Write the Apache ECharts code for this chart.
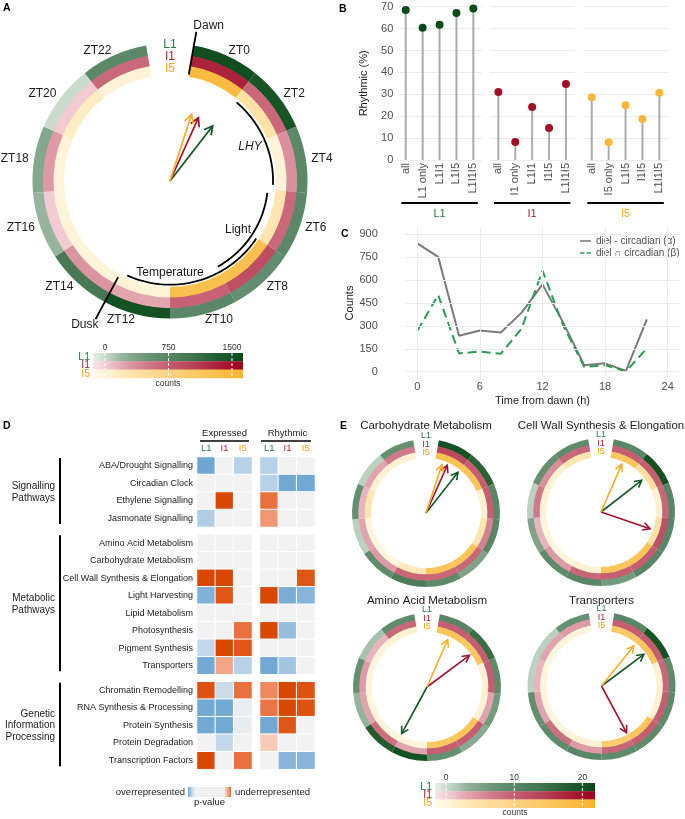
<!DOCTYPE html>
<html>
<head>
<meta charset="utf-8">
<script src="https://cdn.jsdelivr.net/npm/echarts@6.0.0/dist/echarts.min.js"></script>
<style>
html,body{margin:0;padding:0;background:#ffffff;}
#chart{width:685px;height:819px;}
</style>
</head>
<body>
<div id="chart"></div>
<script>
// ======================= DATA =======================
const accessions = ['L1', 'I1', 'I5'];
const ztLabels = ['ZT0','ZT2','ZT4','ZT6','ZT8','ZT10','ZT12','ZT14','ZT16','ZT18','ZT20','ZT22'];
const binStartHour = [0, 2, 4, 6, 8, 10, 12, 14, 16, 18, 20, 22];
const binWidthHour = 2;

// ---- Panel A: counts per 2-h phase bin ----
const ringA_L1 = [1550, 1450, 700, 700, 620, 720, 1500, 950, 200, 320, 0, 700];
const ringA_I1 = [1300, 650, 350, 650, 900, 700, 200, 320, 20, 280, 20, 650];
const ringA_I5 = [1450, 350, 30, 300, 1300, 1300, 20, 0, 0, 10, 150, 30];
const arrowA_hour = [1.96, 1.00, 0.56];
const arrowA_len = [0.657, 0.654, 0.661];
const arcNames = ['LHY', 'Light', 'Temperature'];
const arcStartHour = [2.14, 6.14, 8.03];
const arcEndHour = [5.80, 9.94, 13.72];
const markerNames = ['Dawn', 'Dusk'];
const markerHour = [0, 14];
const legendA_ticks = [0, 750, 1500];

// ---- Panel B ----
const catsL1 = ['all', 'L1 only', 'L1I1', 'L1I5', 'L1I1I5'];
const catsI1 = ['all', 'I1 only', 'L1I1', 'I1I5', 'L1I1I5'];
const catsI5 = ['all', 'I5 only', 'L1I5', 'I1I5', 'L1I1I5'];
const rhythmicL1 = [68.5, 60.4, 61.8, 67.1, 69.2];
const rhythmicI1 = [31.0, 8.2, 24.2, 14.6, 34.7];
const rhythmicI5 = [28.6, 8.1, 25.0, 18.7, 30.7];
const rhythmicTicks = [0, 10, 20, 30, 40, 50, 60, 70];

// ---- Panel C ----
const hoursC = [0, 2, 4, 6, 8, 10, 12, 14, 16, 18, 20, 22];
const dielMinusCircadian = [840, 752, 235, 270, 257, 387, 572, 320, 42, 55, 5, 342];
const dielAndCircadian = [268, 502, 120, 132, 117, 283, 662, 300, 32, 43, 3, 152];
const xTicksC = [0, 6, 12, 18, 24];
const yTicksC = [0, 150, 300, 450, 600, 750, 900];

// ---- Panel D ----
const groupNames = ['Signalling\nPathways', 'Metabolic\nPathways', 'Genetic\nInformation\nProcessing'];
const pathwaysSignalling = ['ABA/Drought Signalling', 'Circadian Clock', 'Ethylene Signalling', 'Jasmonate Signalling'];
const pathwaysMetabolic = ['Amino Acid Metabolism', 'Carbohydrate Metabolism', 'Cell Wall Synthesis & Elongation', 'Light Harvesting', 'Lipid Metabolism', 'Photosynthesis', 'Pigment Synthesis', 'Transporters'];
const pathwaysGenetic = ['Chromatin Remodelling', 'RNA Synthesis & Processing', 'Protein Synthesis', 'Protein Degradation', 'Transcription Factors'];
// signed enrichment: negative = overrepresented (blue), positive = underrepresented (orange)
const expressedSignalling = [[-2.1, 0, -1.0], [0, 0, 0], [0, 3, 0], [-1.1, 0, 0]];
const expressedMetabolic = [[0, 0, 0], [0, 0, 0], [3, 3, 0], [-1.8, 2.7, 0], [0, 0, 0], [0, 0, 2.2], [-0.8, 3, 2.7], [-2, 1.4, -1]];
const expressedGenetic = [[2.8, -0.7, 2.2], [-2, -2, -0.15], [-2, -2, -0.2], [0, -0.8, 0], [3, 0, 2.2]];
const rhythmicSignalling = [[-1, 0, 0], [-1, -2, -2], [2.2, 0, 0], [1.6, 0, 0]];
const rhythmicMetabolic = [[0, 0, 0], [0, 0, 0], [0, 0, 2.7], [3, -1.9, -1.7], [0, 0, 0], [3, -1.5, 0], [0, 0, 0], [-2, -1.3, 0]];
const rhythmicGenetic = [[1.8, 3, 2.8], [2.1, 3, 2.8], [-2, 2.7, 0], [0.8, 0, 0], [0, -1.7, -1.7]];

// ---- Panel E ----
const eTitles = ['Carbohydrate Metabolism', 'Cell Wall Synthesis & Elongation', 'Amino Acid Metabolism', 'Transporters'];
const ringCarb_L1 = [20, 17, 10, 10, 5, 9, 12, 9, 1, 8, 1, 8];
const ringCarb_I1 = [13, 10, 10, 6, 9, 9, 9, 4, 3, 2, 3, 7];
const ringCarb_I5 = [17, 16, 1, 4, 16, 16, 3, 0, 0, 4, 1, 1];
const ringCell_L1 = [10, 20, 10, 10, 10, 6, 10, 9, 5, 1, 8, 9];
const ringCell_I1 = [10, 10, 9, 12, 10, 10, 9, 4, 2, 7, 5, 9];
const ringCell_I5 = [15, 6, 1, 5, 16, 16, 1, 0, 0, 1, 1, 4];
const ringAmino_L1 = [10, 15, 9, 6, 4, 8, 20, 18, 3, 8, 2, 9];
const ringAmino_I1 = [10, 10, 10, 3, 10, 10, 3, 8, 3, 4, 2, 9];
const ringAmino_I5 = [16, 15, 1, 1, 16, 15, 0, 0, 0, 0, 0, 1];
const ringTrans_L1 = [10, 20, 9, 9, 9, 9, 10, 9, 8, 1, 1, 8];
const ringTrans_I1 = [10, 10, 9, 10, 10, 9, 4, 8, 3, 2, 3, 4];
const ringTrans_I5 = [14, 16, 1, 1, 16, 13, 1, 0, 0, 0, 0, 0];
const arrowCarb_hour = [1.99, 0.99, 0.59];
const arrowCarb_len = [0.942, 0.949, 0.925];
const arrowCell_hour = [2.97, 6.97, 0.95];
const arrowCell_len = [0.938, 0.942, 0.945];
const arrowAmino_hour = [14.01, 3.05, 0.96];
const arrowAmino_len = [0.965, 0.962, 0.938];
const arrowTrans_hour = [3.05, 10.01, 2.04];
const arrowTrans_len = [0.962, 0.964, 0.935];
const legendE_ticks = [0, 10, 20];

// ======================= STYLE / LAYOUT =======================
const FONT = '"Liberation Sans", Arial, Helvetica, sans-serif';
const ACC_TEXT = ['#2f7545', '#b01c33', '#f5a51c'];
const POINT_COL = ['#0c4a1c', '#a50f25', '#f9b83a'];
const ARROW_COL = ['#17552a', '#a3122b', '#f5ae2c'];
const RAMP_POS = [0, 0.1, 0.2, 0.35, 0.5, 0.7, 0.85, 1];
const RAMPS = [
  ['#e9f0ea', '#c2d4c6', '#93b29b', '#6d9678', '#588665', '#3c7047', '#1f5a2c', '#0a491a'],
  ['#f8e5e9', '#f0c8d0', '#e1a3ae', '#d17d8c', '#c45d6f', '#b63d52', '#a81b34', '#a00020'],
  ['#fff9ec', '#fff2d5', '#fee8b8', '#fddc9a', '#fcd385', '#fac862', '#f9bd47', '#f7b430']
];
const COLOR_DOMAIN_A = [-142, 1630];
const COLOR_DOMAIN_E = [-1.65, 21.85];
const GAP_DEG = 20;
const H_PAD = (GAP_DEG / 2) * 24 / (360 - GAP_DEG);
const H_MIN = -H_PAD, H_MAX = 24 + H_PAD;

function rampColor(k, t) {
  t = Math.max(0, Math.min(1, t));
  for (let j = 1; j < RAMP_POS.length; j++) {
    if (t <= RAMP_POS[j]) {
      const f = (t - RAMP_POS[j - 1]) / (RAMP_POS[j] - RAMP_POS[j - 1]);
      return echarts.color.lerp(f, [RAMPS[k][j - 1], RAMPS[k][j]]);
    }
  }
  return RAMPS[k][RAMPS[k].length - 1];
}
function txt(text, x, y, align, valign, fill, size, weight, style, lh) {
  const font = (style ? style + ' ' : '') + (weight ? weight + ' ' : '') + size + 'px ' + FONT;
  const s = { text: text, fill: fill, font: font, align: align, textAlign: align, verticalAlign: valign, textVerticalAlign: valign };
  if (lh) s.lineHeight = lh;
  return { type: 'text', x: x, y: y, silent: true, style: s };
}

const grid = [], xAxis = [], yAxis = [], series = [], G = [];

// polar systems: A and four E plots (radius = inner edge of the rings)
const POLARS = [
  { center: [170, 181], r: 106, thick: 10.5, domain: COLOR_DOMAIN_A, rings: [ringA_L1, ringA_I1, ringA_I5], aHour: arrowA_hour, aLen: arrowA_len, head: 9.5, lw: 1.8, labR: [1.283, 1.17, 1.057], labSize: 12 },
  { center: [426, 513], r: 55, thick: 6.33, domain: COLOR_DOMAIN_E, rings: [ringCarb_L1, ringCarb_I1, ringCarb_I5], aHour: arrowCarb_hour, aLen: arrowCarb_len, head: 8, lw: 1.6, labR: [1.40, 1.249, 1.096], labSize: 9 },
  { center: [601, 512], r: 55, thick: 6.33, domain: COLOR_DOMAIN_E, rings: [ringCell_L1, ringCell_I1, ringCell_I5], aHour: arrowCell_hour, aLen: arrowCell_len, head: 8, lw: 1.6, labR: [1.40, 1.249, 1.096], labSize: 9 },
  { center: [427, 687], r: 55, thick: 6.33, domain: COLOR_DOMAIN_E, rings: [ringAmino_L1, ringAmino_I1, ringAmino_I5], aHour: arrowAmino_hour, aLen: arrowAmino_len, head: 8, lw: 1.6, labR: [1.40, 1.249, 1.096], labSize: 9 },
  { center: [601.5, 686], r: 55, thick: 6.33, domain: COLOR_DOMAIN_E, rings: [ringTrans_L1, ringTrans_I1, ringTrans_I5], aHour: arrowTrans_hour, aLen: arrowTrans_len, head: 8, lw: 1.6, labR: [1.40, 1.249, 1.096], labSize: 9 }
];

// ======================= PANEL B =======================
const B_TOP = 6.7, B_H = 153.3, B_LEFT = [397.3, 489.9, 583.3], B_W = 84.5;
const bCats = [catsL1, catsI1, catsI5];
const bVals = [rhythmicL1, rhythmicI1, rhythmicI5];
for (let f = 0; f < 3; f++) {
  grid.push({ left: B_LEFT[f], top: B_TOP, width: B_W, height: B_H });
  xAxis.push({ gridIndex: f, type: 'category', data: bCats[f], axisLine: { show: false }, axisTick: { show: false },
    axisLabel: { rotate: 90, fontSize: 11, color: '#4d4d4d', margin: 3, interval: 0, fontFamily: FONT } });
  yAxis.push({ gridIndex: f, type: 'value', min: rhythmicTicks[0], max: rhythmicTicks[rhythmicTicks.length - 1], interval: 10,
    axisLine: { show: false }, axisTick: { show: false },
    splitLine: { lineStyle: { color: '#ebebeb', width: 1 } },
    axisLabel: { show: f === 0, fontSize: 11, color: '#4d4d4d', margin: 4, fontFamily: FONT },
    name: f === 0 ? 'Rhythmic (%)' : '', nameLocation: 'middle', nameGap: 28,
    nameTextStyle: { fontSize: 11, color: '#1a1a1a', fontFamily: FONT } });
  series.push({ type: 'bar', xAxisIndex: f, yAxisIndex: f, data: bVals[f], barWidth: 2, itemStyle: { color: '#ababab' }, silent: true, z: 2 });
  series.push({ type: 'scatter', xAxisIndex: f, yAxisIndex: f, data: bVals[f], symbolSize: 8, itemStyle: { color: POINT_COL[f], opacity: 1 }, silent: true, z: 3 });
  G.push({ type: 'line', silent: true, shape: { x1: B_LEFT[f] + 4, y1: 203, x2: B_LEFT[f] + B_W - 4, y2: 203 }, style: { stroke: '#000', lineWidth: 2 } });
  G.push(txt(accessions[f], B_LEFT[f] + B_W / 2, 214, 'center', 'middle', ACC_TEXT[f], 11));
}

// ======================= PANEL C =======================
const C_LEFT = 404.8, C_TOP = 227.4, C_W = 275.4, C_H = 151.2;
const C_NAMES = ['diel - circadian (α)', 'diel ∩ circadian (β)'];
grid.push({ left: C_LEFT, top: C_TOP, width: C_W, height: C_H });
xAxis.push({ gridIndex: 3, type: 'value', min: -1.2, max: 25.2, axisLine: { show: false }, axisTick: { show: false }, splitLine: { show: false },
  axisLabel: { customValues: xTicksC, fontSize: 11, color: '#4d4d4d', margin: 3, fontFamily: FONT },
  name: 'Time from dawn (h)', nameLocation: 'middle', nameGap: 17,
  nameTextStyle: { fontSize: 11, color: '#1a1a1a', verticalAlign: 'top', fontFamily: FONT } });
yAxis.push({ gridIndex: 3, type: 'value', min: -45, max: 945, axisLine: { show: false }, axisTick: { show: false }, splitLine: { show: false },
  axisLabel: { customValues: yTicksC, fontSize: 11, color: '#4d4d4d', margin: 27, fontFamily: FONT },
  name: 'Counts', nameLocation: 'middle', nameGap: 49,
  nameTextStyle: { fontSize: 11, color: '#1a1a1a', fontFamily: FONT } });
series.push({ type: 'line', xAxisIndex: 3, yAxisIndex: 3, data: [], silent: true, z: 1,
  markLine: { silent: true, symbol: ['none', 'none'], label: { show: false }, animation: false,
    lineStyle: { color: '#ebebeb', width: 1, type: 'solid' },
    data: xTicksC.map(v => ({ xAxis: v })).concat(yTicksC.map(v => ({ yAxis: v }))) } });
series.push({ type: 'line', name: C_NAMES[0], xAxisIndex: 3, yAxisIndex: 3, symbol: 'none',
  data: hoursC.map((h, i) => [h, dielMinusCircadian[i]]),
  lineStyle: { color: '#7a7a7a', width: 2 }, itemStyle: { color: '#7a7a7a' }, z: 3, silent: true });
series.push({ type: 'line', name: C_NAMES[1], xAxisIndex: 3, yAxisIndex: 3, symbol: 'none',
  data: hoursC.map((h, i) => [h, dielAndCircadian[i]]),
  lineStyle: { color: '#2e9a54', width: 2, type: [9, 5] }, itemStyle: { color: '#2e9a54' }, z: 4, silent: true });

// ======================= PANEL D =======================
const D_COL_LEFT = [197, 260], D_COL_W = 55;
const D_GROUP_TOP = [457, 534.3, 681.7], D_ROW_H = 17.5;
const dRows = [pathwaysSignalling, pathwaysMetabolic, pathwaysGenetic];
const dVals = [[expressedSignalling, rhythmicSignalling], [expressedMetabolic, rhythmicMetabolic], [expressedGenetic, rhythmicGenetic]];
const heatIdx = [];
for (let g = 0; g < 3; g++) {
  for (let b = 0; b < 2; b++) {
    const gi = grid.length;
    grid.push({ left: D_COL_LEFT[b], top: D_GROUP_TOP[g], width: D_COL_W, height: dRows[g].length * D_ROW_H });
    xAxis.push({ gridIndex: gi, type: 'category', data: accessions, position: 'top', axisLine: { show: false }, axisTick: { show: false }, splitLine: { show: false },
      axisLabel: { show: g === 0, interval: 0, margin: 3.5, fontSize: 9.5, fontFamily: FONT,
        formatter: v => '{' + v + '|' + v + '}',
        rich: { L1: { color: ACC_TEXT[0], fontSize: 9.5, fontFamily: FONT }, I1: { color: ACC_TEXT[1], fontSize: 9.5, fontFamily: FONT }, I5: { color: ACC_TEXT[2], fontSize: 9.5, fontFamily: FONT } } } });
    yAxis.push({ gridIndex: gi, type: 'category', data: dRows[g], inverse: true, axisLine: { show: false }, axisTick: { show: false }, splitLine: { show: false },
      axisLabel: { show: b === 0, interval: 0, fontSize: 9, color: '#1a1a1a', margin: 4, fontFamily: FONT } });
    const data = [];
    dVals[g][b].forEach((row, r) => row.forEach((v, c) => data.push([c, r, v])));
    heatIdx.push(series.length);
    series.push({ type: 'heatmap', xAxisIndex: gi, yAxisIndex: gi, data: data, silent: true,
      itemStyle: { borderColor: '#ffffff', borderWidth: 1 }, emphasis: { disabled: true } });
  }
  const top = D_GROUP_TOP[g], bot = top + dRows[g].length * D_ROW_H;
  G.push({ type: 'line', silent: true, shape: { x1: 60, y1: top + 1, x2: 60, y2: bot - 3 }, style: { stroke: '#000', lineWidth: 2 } });
  G.push(txt(groupNames[g], 55, (top + bot) / 2, 'right', 'middle', '#1a1a1a', 10, null, null, 11.7));
}
G.push(txt('Expressed', D_COL_LEFT[0] + D_COL_W / 2, 433, 'center', 'middle', '#1a1a1a', 9.5));
G.push({ type: 'line', silent: true, shape: { x1: 200, y1: 441, x2: 249, y2: 441 }, style: { stroke: '#000', lineWidth: 1.5 } });
G.push(txt('Rhythmic', D_COL_LEFT[1] + D_COL_W / 2, 433, 'center', 'middle', '#1a1a1a', 9.5));
G.push({ type: 'line', silent: true, shape: { x1: 261, y1: 441, x2: 311, y2: 441 }, style: { stroke: '#000', lineWidth: 1.5 } });
// p-value legend
G.push({ type: 'rect', silent: true, shape: { x: 188, y: 787, width: 43, height: 10 },
  style: { fill: new echarts.graphic.LinearGradient(0, 0, 1, 0, [
    { offset: 0, color: '#6ea6d2' }, { offset: 0.07, color: '#b0cde6' }, { offset: 0.16, color: '#f0f0f0' },
    { offset: 0.84, color: '#f0f0f0' }, { offset: 0.93, color: '#f3a47f' }, { offset: 1, color: '#e8693a' }]) } });
G.push(txt('overrepresented', 185, 792, 'right', 'middle', '#1a1a1a', 9.5));
G.push(txt('underrepresented', 235, 792, 'left', 'middle', '#1a1a1a', 9.5));
G.push(txt('p-value', 209.5, 797, 'center', 'top', '#1a1a1a', 9.5));

// ======================= PANELS A & E (rings, arrows) =======================
function rampLegend(x0, x1, y0, barH, domain, ticks, fs) {
  const X = v => x0 + (v - domain[0]) / (domain[1] - domain[0]) * (x1 - x0);
  for (let k = 0; k < 3; k++) {
    G.push({ type: 'rect', silent: true, shape: { x: x0, y: y0 + k * barH, width: x1 - x0, height: barH + 0.3 },
      style: { fill: new echarts.graphic.LinearGradient(0, 0, 1, 0, RAMP_POS.map((p, j) => ({ offset: p, color: RAMPS[k][j] }))) } });
    G.push(txt(accessions[k], x0 - 3, y0 + (k + 0.5) * barH, 'right', 'middle', ACC_TEXT[k], fs + 2));
  }
  ticks.forEach(t => {
    const x = X(t);
    G.push({ type: 'line', silent: true, shape: { x1: x, y1: y0, x2: x, y2: y0 + 3 * barH }, style: { stroke: '#ffffff', lineWidth: 1, lineDash: [3, 2] } });
    G.push(txt(String(t), x, y0 - 1, 'center', 'bottom', '#333333', fs));
  });
  G.push(txt('counts', (x0 + x1) / 2, y0 + 3 * barH + 1, 'center', 'top', '#333333', fs));
}

const polar = [], angleAxis = [], radiusAxis = [];
POLARS.forEach((P, pi) => {
  polar.push({ center: P.center, radius: P.r });
  angleAxis.push({ polarIndex: pi, type: 'value', min: H_MIN, max: H_MAX, startAngle: 90, clockwise: true, show: false });
  radiusAxis.push({ polarIndex: pi, type: 'value', min: 0, max: 1, show: false });
  // rings: L1 outermost, I5 innermost
  P.rings.forEach((arr, k) => {
    const r0 = P.r + (2 - k) * P.thick;
    series.push({ type: 'pie', center: P.center, radius: [k === 2 ? r0 : r0 - 0.5, r0 + P.thick],
      startAngle: 90 - GAP_DEG / 2, endAngle: 90 - GAP_DEG / 2 - (360 - GAP_DEG), clockwise: true,
      silent: true, label: { show: false }, labelLine: { show: false }, emphasis: { disabled: true }, z: 2,
      itemStyle: { borderWidth: 0 },
      data: arr.map((v, i) => ({ name: ztLabels[i], value: binWidthHour,
        itemStyle: { color: rampColor(k, (v - P.domain[0]) / (P.domain[1] - P.domain[0])) } })) });
  });
  // accession labels in the gap
  series.push({ type: 'custom', coordinateSystem: 'polar', polarIndex: pi, silent: true, z: 6,
    data: accessions.map((a, k) => [P.labR[k], H_MIN, k]),
    renderItem: (params, api) => {
      const p = api.coord([api.value(0), api.value(1)]);
      const k = api.value(2);
      return { type: 'text', x: p[0], y: p[1], style: { text: accessions[k], fill: ACC_TEXT[k], font: P.labSize + 'px ' + FONT,
        align: 'center', textAlign: 'center', verticalAlign: 'middle', textVerticalAlign: 'middle' } };
    } });
  // arrows (mean phase vectors)
  series.push({ type: 'custom', coordinateSystem: 'polar', polarIndex: pi, silent: true, z: 7,
    data: P.aHour.map((h, k) => [P.aLen[k], h, k]),
    renderItem: (params, api) => {
      const r = api.value(0), h = api.value(1), k = api.value(2);
      const o = api.coord([0, h]), p = api.coord([r, h]);
      const a = Math.atan2(p[1] - o[1], p[0] - o[0]);
      const s = 0.5;
      const q1 = [p[0] - P.head * Math.cos(a - s), p[1] - P.head * Math.sin(a - s)];
      const q2 = [p[0] - P.head * Math.cos(a + s), p[1] - P.head * Math.sin(a + s)];
      return { type: 'group', children: [
        { type: 'polyline', shape: { points: [o, p] }, style: { stroke: ARROW_COL[k], lineWidth: P.lw, fill: null } },
        { type: 'polyline', shape: { points: [q1, p, q2] }, style: { stroke: ARROW_COL[k], lineWidth: P.lw, fill: null, lineJoin: 'miter' } }
      ] };
    } });
  if (pi > 0) {
    G.push(txt(eTitles[pi - 1], P.center[0], pi <= 2 ? 426 : 601, 'center', 'middle', '#1a1a1a', 11.5));
  }
});

// Panel A extras: ZT labels, arcs, dawn/dusk markers
const ZT_LABEL_R = 1.35;
series.push({ type: 'custom', coordinateSystem: 'polar', polarIndex: 0, silent: true, z: 6,
  data: binStartHour.map((h, i) => [ZT_LABEL_R, h + binWidthHour / 2, i]),
  renderItem: (params, api) => {
    const p = api.coord([api.value(0), api.value(1)]);
    const c = api.coord([0, api.value(1)]);
    const side = p[0] - c[0];
    const al = side > 1 ? 'left' : (side < -1 ? 'right' : 'center');
    return { type: 'text', x: p[0], y: p[1], style: { text: ztLabels[api.value(2)], fill: '#1a1a1a', font: '12px ' + FONT,
      align: al, textAlign: al, verticalAlign: 'middle', textVerticalAlign: 'middle' } };
  } });
const ARC_R = [0.972, 0.925, 0.978];
const ARC_LABEL = [{ r: 0.82, h: 4.02, style: 'italic' }, { r: 0.79, h: 8.17, style: null }, { r: 0.868, h: 12.0, style: null }];
series.push({ type: 'custom', coordinateSystem: 'polar', polarIndex: 0, silent: true, z: 6,
  data: arcNames.map((n, i) => [ARC_R[i], arcStartHour[i], arcEndHour[i], i]),
  renderItem: (params, api) => {
    const r = api.value(0), h0 = api.value(1), h1 = api.value(2), i = api.value(3);
    const pts = [];
    for (let k = 0; k <= 48; k++) pts.push(api.coord([r, h0 + (h1 - h0) * k / 48]));
    const L = ARC_LABEL[i];
    const lp = api.coord([L.r, L.h]);
    return { type: 'group', children: [
      { type: 'polyline', shape: { points: pts }, style: { stroke: '#000', lineWidth: 1.8, fill: null } },
      { type: 'text', x: lp[0], y: lp[1], style: { text: arcNames[i], fill: '#1a1a1a', font: (L.style ? L.style + ' ' : '') + '12px ' + FONT,
        align: 'center', textAlign: 'center', verticalAlign: 'middle', textVerticalAlign: 'middle' } }
    ] };
  } });
const MARKER_LAYOUT = [{ r0: 1.02, r1: 1.43, align: 'left', valign: 'bottom', dx: -3 }, { r0: 1.03, r1: 1.48, align: 'right', valign: 'top', dx: 3 }];
series.push({ type: 'custom', coordinateSystem: 'polar', polarIndex: 0, silent: true, z: 6,
  data: markerNames.map((n, i) => [1, markerHour[i], i]),
  renderItem: (params, api) => {
    const h = api.value(1), i = api.value(2);
    const m = MARKER_LAYOUT[i];
    const a = api.coord([m.r0, h]), b = api.coord([m.r1, h]);
    return { type: 'group', children: [
      { type: 'line', shape: { x1: a[0], y1: a[1], x2: b[0], y2: b[1] }, style: { stroke: '#000', lineWidth: 1.8 } },
      { type: 'text', x: b[0] + m.dx, y: b[1], style: { text: markerNames[i], fill: '#1a1a1a', font: '12px ' + FONT,
        align: m.align, textAlign: m.align, verticalAlign: m.valign, textVerticalAlign: m.valign } }
    ] };
  } });

rampLegend(93, 243, 353, 8.3, COLOR_DOMAIN_A, legendA_ticks, 8.5);
rampLegend(435, 595, 783, 8.2, COLOR_DOMAIN_E, legendE_ticks, 8.5);

// panel letters
[['A', 3, 3], ['B', 339, 4], ['C', 341, 229], ['D', 3, 421], ['E', 340, 421]].forEach(l => {
  G.push(txt(l[0], l[1], l[2], 'left', 'top', '#000', 10.5, 'bold'));
});

const option = {
  animation: false,
  backgroundColor: '#ffffff',
  textStyle: { fontFamily: FONT },
  grid: grid, xAxis: xAxis, yAxis: yAxis,
  polar: polar, angleAxis: angleAxis, radiusAxis: radiusAxis,
  legend: { data: [
      { name: C_NAMES[0], icon: 'path://M0,0H14V2H0Z', itemStyle: { color: '#7a7a7a' } },
      { name: C_NAMES[1], icon: 'path://M0,0H6V2H0Z M9,0H15V2H9Z', itemStyle: { color: '#2e9a54' } }
    ],
    left: 580, top: 236, orient: 'vertical',
    padding: 0, itemWidth: 11, itemHeight: 2, itemGap: 2, selectedMode: false,
    textStyle: { fontSize: 10, color: '#4d4d4d', fontFamily: FONT } },
  visualMap: [{ type: 'continuous', show: false, min: -3, max: 3, dimension: 2, seriesIndex: heatIdx,
    inRange: { color: ['#5a99cb', '#72a9d3', '#b7d2e8', '#f2f2f2', '#f7c3ab', '#ec7b4c', '#d94801'] } }],
  graphic: { elements: G },
  series: series
};
const chart = echarts.init(document.getElementById('chart'), null, { renderer: 'canvas', width: 685, height: 819 });
chart.setOption(option);
</script>
</body>
</html>
